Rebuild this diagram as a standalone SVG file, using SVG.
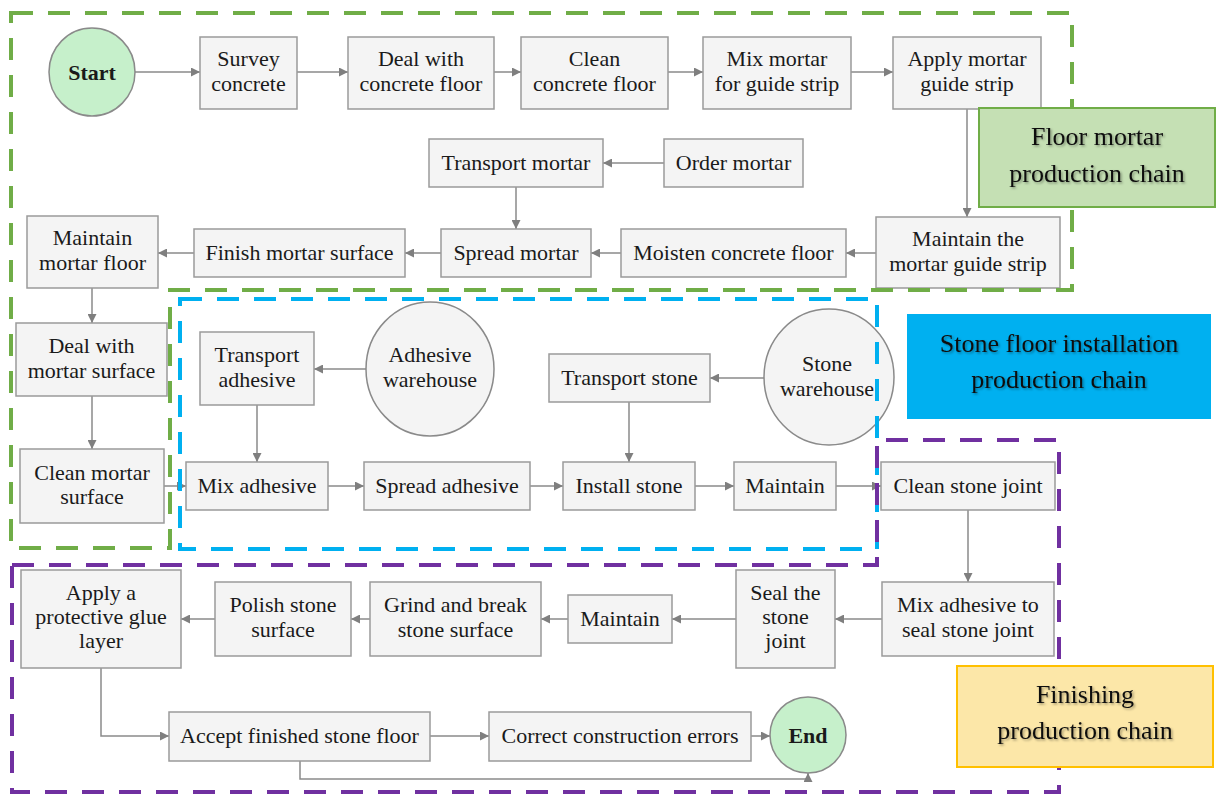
<svg xmlns="http://www.w3.org/2000/svg" width="1217" height="796" viewBox="0 0 1217 796">
<style>
.n{fill:#f4f4f4;stroke:#9a9a9a;stroke-width:1.5}
.t{font-family:"Liberation Serif","Times New Roman",serif;font-size:22px;fill:#1a1a1a;text-anchor:middle}
.b{font-weight:bold}
.c{fill:none;stroke:#8a8a8a;stroke-width:1.5;marker-end:url(#a)}
.d{fill:none;stroke-width:4;stroke-dasharray:22 15}
.l{font-family:"Liberation Serif","Times New Roman",serif;font-size:26px;fill:#111;text-anchor:middle;filter:url(#sh)}
</style>
<defs>
<marker id="a" markerWidth="9" markerHeight="9" refX="9" refY="4.5" orient="auto" markerUnits="userSpaceOnUse">
<path d="M0,0 L9,4.5 L0,9 z" fill="#7f7f7f"/>
</marker>
<filter id="sh" x="-10%" y="-20%" width="120%" height="150%">
<feDropShadow dx="1.5" dy="1.5" stdDeviation="1" flood-color="#000" flood-opacity="0.35"/>
</filter>
</defs>
<rect width="1217" height="796" fill="#fff"/>

<g id="connectors">
<path class="c" d="M135,72 H200"/>
<path class="c" d="M297,72 H348"/>
<path class="c" d="M494,72 H521"/>
<path class="c" d="M668,72 H703"/>
<path class="c" d="M851,72 H893"/>
<path class="c" d="M967,109 V217"/>
<path class="c" d="M876,253 H846"/>
<path class="c" d="M621,253 H591"/>
<path class="c" d="M664,163 H603"/>
<path class="c" d="M516,187 V229"/>
<path class="c" d="M441,253 H405"/>
<path class="c" d="M194,253 H158"/>
<path class="c" d="M92,288 V323"/>
<path class="c" d="M92,396 V449"/>
<path class="c" d="M164,486 H186"/>
<path class="c" d="M366,369 H314"/>
<path class="c" d="M257,405 V462"/>
<path class="c" d="M328,486 H364"/>
<path class="c" d="M530,486 H563"/>
<path class="c" d="M764,378 H710"/>
<path class="c" d="M629,402 V462"/>
<path class="c" d="M695,486 H734"/>
<path class="c" d="M836,486 H881"/>
<path class="c" d="M968,510 V582"/>
<path class="c" d="M882,619 H835"/>
<path class="c" d="M736,619 H672"/>
<path class="c" d="M568,619 H541"/>
<path class="c" d="M370,619 H351"/>
<path class="c" d="M215,619 H181"/>
<path class="c" d="M101,668 V736 H169"/>
<path class="c" d="M430,736 H489"/>
<path class="c" d="M751,736 H770"/>
<path class="c" d="M300,761 V779 H808 V773"/>
</g>

<g id="start"><ellipse cx="92" cy="72" rx="43" ry="44" fill="#c6f0cb" stroke="#8a8a8a" stroke-width="1.5"/><text class="t b" x="92" y="80">Start</text></g>
<g id="survey"><rect class="n" x="200" y="37" width="97" height="72"/><text class="t" x="248.5" y="66">Survey</text><text class="t" x="248.5" y="91">concrete</text></g>
<g id="dealconcrete"><rect class="n" x="348" y="37" width="146" height="72"/><text class="t" x="421" y="66">Deal with</text><text class="t" x="421" y="91">concrete floor</text></g>
<g id="cleanconcrete"><rect class="n" x="521" y="37" width="147" height="72"/><text class="t" x="594.5" y="66">Clean</text><text class="t" x="594.5" y="91">concrete floor</text></g>
<g id="mixmortar"><rect class="n" x="703" y="37" width="148" height="72"/><text class="t" x="777" y="66">Mix mortar</text><text class="t" x="777" y="91">for guide strip</text></g>
<g id="applystrip"><rect class="n" x="893" y="37" width="148" height="72"/><text class="t" x="967" y="66">Apply mortar</text><text class="t" x="967" y="91">guide strip</text></g>

<g id="transportmortar"><rect class="n" x="429" y="139" width="174" height="48"/><text class="t" x="516" y="170">Transport mortar</text></g>
<g id="ordermortar"><rect class="n" x="664" y="139" width="139" height="48"/><text class="t" x="733.5" y="170">Order mortar</text></g>

<g id="maintainfloor"><rect class="n" x="27" y="216" width="131" height="72"/><text class="t" x="92.5" y="245">Maintain</text><text class="t" x="92.5" y="270">mortar floor</text></g>
<g id="finishsurface"><rect class="n" x="194" y="229" width="211" height="48"/><text class="t" x="299.5" y="260">Finish mortar surface</text></g>
<g id="spreadmortar"><rect class="n" x="441" y="229" width="150" height="48"/><text class="t" x="516" y="260">Spread mortar</text></g>
<g id="moisten"><rect class="n" x="621" y="229" width="225" height="48"/><text class="t" x="733.5" y="260">Moisten concrete floor</text></g>
<g id="maintainstrip"><rect class="n" x="876" y="217" width="184" height="71"/><text class="t" x="968" y="246">Maintain the</text><text class="t" x="968" y="271">mortar guide strip</text></g>

<g id="dealmortar"><rect class="n" x="16" y="323" width="151" height="73"/><text class="t" x="91.5" y="353">Deal with</text><text class="t" x="91.5" y="378">mortar surface</text></g>
<g id="transportadhesive"><rect class="n" x="200" y="332" width="114" height="73"/><text class="t" x="257" y="362">Transport</text><text class="t" x="257" y="387">adhesive</text></g>
<g id="adhesivewarehouse"><ellipse cx="430" cy="369" rx="64" ry="67" fill="#f4f4f4" stroke="#8a8a8a" stroke-width="1.5"/><text class="t" x="430" y="362">Adhesive</text><text class="t" x="430" y="387">warehouse</text></g>
<g id="transportstone"><rect class="n" x="549" y="354" width="161" height="48"/><text class="t" x="629.5" y="385">Transport stone</text></g>
<g id="stonewarehouse"><ellipse cx="829" cy="377" rx="65" ry="68" fill="#f4f4f4" stroke="#8a8a8a" stroke-width="1.5"/><text class="t" x="827" y="371">Stone</text><text class="t" x="827" y="396">warehouse</text></g>

<g id="cleanmortar"><rect class="n" x="20" y="449" width="144" height="74"/><text class="t" x="92" y="480">Clean mortar</text><text class="t" x="92" y="504">surface</text></g>
<g id="mixadhesive"><rect class="n" x="186" y="462" width="142" height="48"/><text class="t" x="257" y="493">Mix adhesive</text></g>
<g id="spreadadhesive"><rect class="n" x="364" y="462" width="166" height="48"/><text class="t" x="447" y="493">Spread adhesive</text></g>
<g id="installstone"><rect class="n" x="563" y="462" width="132" height="48"/><text class="t" x="629" y="493">Install stone</text></g>
<g id="maintain1"><rect class="n" x="734" y="462" width="102" height="48"/><text class="t" x="785" y="493">Maintain</text></g>
<g id="cleanjoint"><rect class="n" x="881" y="462" width="174" height="48"/><text class="t" x="968" y="493">Clean stone joint</text></g>

<g id="applyglue"><rect class="n" x="21" y="570" width="160" height="98"/><text class="t" x="101" y="600">Apply a</text><text class="t" x="101" y="624">protective glue</text><text class="t" x="101" y="648">layer</text></g>
<g id="polish"><rect class="n" x="215" y="582" width="136" height="74"/><text class="t" x="283" y="612">Polish stone</text><text class="t" x="283" y="637">surface</text></g>
<g id="grind"><rect class="n" x="370" y="582" width="171" height="74"/><text class="t" x="455.5" y="612">Grind and break</text><text class="t" x="455.5" y="637">stone surface</text></g>
<g id="maintain2"><rect class="n" x="568" y="595" width="104" height="48"/><text class="t" x="620" y="626">Maintain</text></g>
<g id="sealjoint"><rect class="n" x="736" y="570" width="99" height="98"/><text class="t" x="785.5" y="600">Seal the</text><text class="t" x="785.5" y="624">stone</text><text class="t" x="785.5" y="648">joint</text></g>
<g id="mixseal"><rect class="n" x="882" y="582" width="172" height="74"/><text class="t" x="968" y="612">Mix adhesive to</text><text class="t" x="968" y="637">seal stone joint</text></g>

<g id="accept"><rect class="n" x="169" y="712" width="261" height="49"/><text class="t" x="299.5" y="743">Accept finished stone floor</text></g>
<g id="correct"><rect class="n" x="489" y="712" width="262" height="49"/><text class="t" x="620" y="743">Correct construction errors</text></g>
<g id="end"><ellipse cx="808" cy="735" rx="38" ry="38" fill="#c6f0cb" stroke="#8a8a8a" stroke-width="1.5"/><text class="t b" x="808" y="743">End</text></g>

<g id="chains">
<path class="d" stroke="#70ad47" d="M11,13 H1072 V290 H170 V548 H11 Z"/>
<path class="d" stroke="#00b0f0" d="M180,299 H877 V549 H180 Z"/>
<path class="d" stroke="#7030a0" d="M12,565 H877 V440 H1059 V792 H12 Z"/>
</g>

<g id="label-floor"><rect x="979" y="108" width="236" height="99" fill="#c5e0b4" stroke="#70ad47" stroke-width="2"/><text class="l" x="1097" y="145">Floor mortar</text><text class="l" x="1097" y="182">production chain</text></g>
<g id="label-stone"><rect x="907" y="314" width="304" height="105" fill="#00b0f0"/><text class="l" x="1059" y="352">Stone floor installation</text><text class="l" x="1059" y="388">production chain</text></g>
<g id="label-finishing"><rect x="957" y="666" width="256" height="101" fill="#fce7a8" stroke="#ffc000" stroke-width="2"/><text class="l" x="1085" y="703">Finishing</text><text class="l" x="1085" y="739">production chain</text></g>
</svg>
